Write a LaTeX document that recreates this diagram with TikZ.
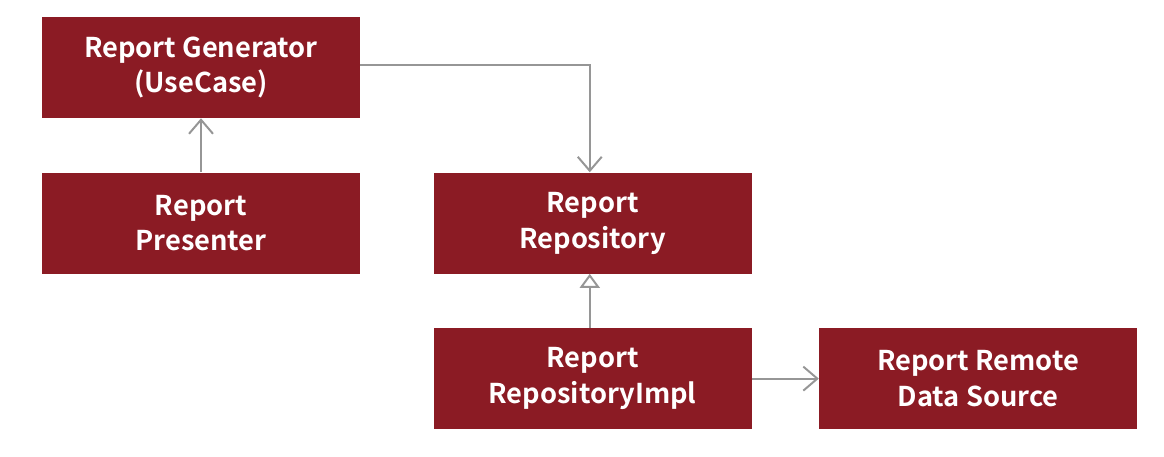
\documentclass[tikz,border=0pt]{standalone}
\usepackage{fontspec}
\setmainfont{Noto Sans CJK KR}[BoldFont={* Bold}]
\usetikzlibrary{arrows.meta,positioning}
\definecolor{myred}{RGB}{139,27,36}
\definecolor{mygray}{RGB}{150,150,150}

\begin{document}
\begin{tikzpicture}[node distance=1.35cm and 1.825cm,
  box/.style={fill=myred,text=white,minimum width=7.95cm,minimum height=2.525cm,
    align=center,font=\fontsize{19.4}{25.5}\selectfont\bfseries,inner sep=0pt},
  link/.style={draw=mygray,line width=1.4pt,-{Straight Barb[length=3.5mm,width=6mm]}},
  impl/.style={draw=mygray,line width=1.4pt,-{Triangle[open,length=3.5mm,width=5mm]}}]
\useasboundingbox (-5.025,1.6875) rectangle (24.075,-9.7125);
\node[box] (gen) at (0,0) {Report Generator\\(UseCase)};
\node[box,below=of gen] (pres) {Report\\Presenter};
\node[box,right=of pres] (repo) {Report\\Repository};
\node[box,below=of repo] (repoimpl) {Report\\RepositoryImpl};
\node[box,right=1.675cm of repoimpl] (remote) {Report Remote\\Data Source};
\draw[link] (pres) -- (gen);
\draw[link] ([yshift=0.06cm]gen.east) -| ([xshift=-0.07cm]repo.north);
\draw[impl] ([xshift=-0.07cm]repoimpl.north) -- ([xshift=-0.07cm]repo.south);
\draw[link] (repoimpl) -- (remote);
\end{tikzpicture}
\end{document}
